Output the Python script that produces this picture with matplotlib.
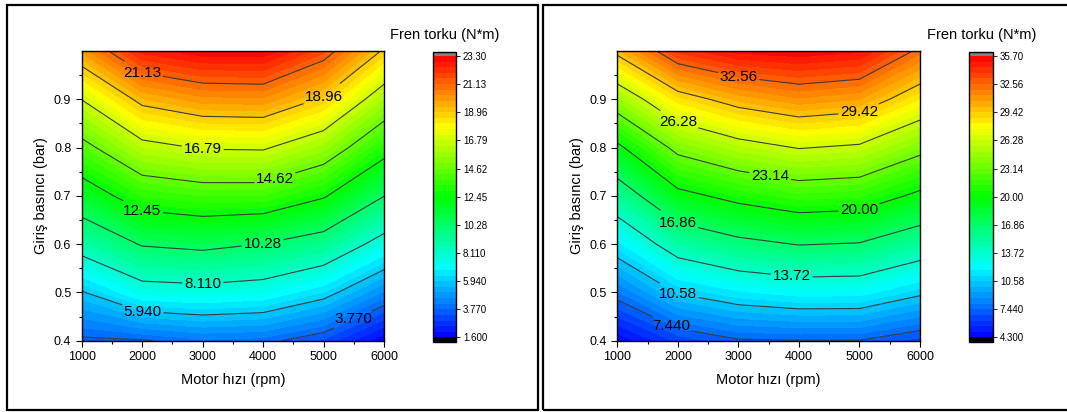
import numpy as np
import matplotlib
matplotlib.use("Agg")
import matplotlib.pyplot as plt
from matplotlib.colors import LinearSegmentedColormap
from matplotlib.patches import Rectangle
from matplotlib.ticker import MultipleLocator, FixedLocator

plt.rcParams["font.family"] = ["Liberation Sans", "DejaVu Sans"]

# grid (rows = pressure, cols = motor speed)
motor_speed = [1000, 2000, 3000, 4000, 5000, 6000]
inlet_pressure = [0.4, 0.5, 0.6, 0.7, 0.8, 0.9, 1.0]

torque_left = [
    [3.60, 3.70, 4.10, 4.00, 3.24, 1.65],
    [5.85, 7.41, 7.56, 7.33, 6.37, 4.56],
    [8.82, 10.40, 10.68, 10.25, 9.47, 7.49],
    [11.43, 13.36, 13.76, 13.74, 12.60, 10.31],
    [14.10, 16.31, 16.90, 16.95, 15.70, 13.09],
    [16.82, 19.35, 20.09, 20.17, 18.80, 15.88],
    [19.95, 22.60, 23.20, 23.25, 21.70, 18.80],
]
torque_right = [
    [4.40, 6.35, 7.30, 7.40, 7.40, 6.52],
    [8.01, 10.70, 11.70, 12.22, 12.17, 10.88],
    [11.59, 14.90, 16.22, 16.95, 16.73, 15.18],
    [15.33, 19.33, 20.69, 21.64, 21.37, 19.52],
    [19.52, 23.80, 25.41, 26.38, 25.96, 23.82],
    [24.58, 28.52, 30.23, 31.18, 30.69, 28.14],
    [29.90, 34.00, 35.30, 35.60, 35.20, 32.20],
]

range_left = (1.6, 23.3)
range_right = (4.3, 35.7)

# where the contour labels sit
labels_left = [(2000, 0.955), (5000, 0.905), (3000, 0.797), (4200, 0.735),
               (2000, 0.668), (4000, 0.592), (3000, 0.521), (2000, 0.45),
               (5480, 0.446)]
labels_right = [(3000, 0.946), (5000, 0.872), (2000, 0.852), (3520, 0.739),
                (5000, 0.670), (2000, 0.645), (3880, 0.533), (2000, 0.497),
                (1890, 0.431)]

cmap = LinearSegmentedColormap.from_list(
    "rainbow_origin",
    [(0.0, "#0000ff"), (0.25, "#00ffff"), (0.5, "#00ff00"),
     (0.75, "#ffff00"), (1.0, "#ff0000")], N=256)
cmap.set_over("#808080")
cmap.set_under("black")


def fmt(v):
    return f"{v:.3f}" if v < 10 else f"{v:.2f}"


def draw_panel(fig, ax, cax, z, vrange, label_pos):
    X, Y = np.meshgrid(motor_speed, inlet_pressure)
    Z = np.array(z)
    ticks = np.linspace(vrange[0], vrange[1], 11)
    fill_levels = np.linspace(vrange[0], vrange[1], 51)

    cf = ax.contourf(X, Y, Z, levels=fill_levels, cmap=cmap, extend="both")
    cs = ax.contour(X, Y, Z, levels=ticks[1:-1], colors="#3c3c3c", linewidths=0.8)
    texts = ax.clabel(cs, fmt=fmt, fontsize=11, colors="black", manual=label_pos,
                      inline=True, inline_spacing=2)
    for t in texts:
        t.set_rotation(0)

    ax.set_xlim(1000, 6000)
    ax.set_ylim(0.4, 1.0)
    ax.xaxis.set_major_locator(MultipleLocator(1000))
    ax.xaxis.set_minor_locator(MultipleLocator(500))
    ax.yaxis.set_major_locator(FixedLocator([0.4, 0.5, 0.6, 0.7, 0.8, 0.9]))
    ax.yaxis.set_minor_locator(FixedLocator([0.45, 0.55, 0.65, 0.75, 0.85, 0.95]))
    ax.tick_params(which="major", direction="out", length=4, width=0.8, labelsize=9)
    ax.tick_params(which="minor", direction="out", length=2, width=0.8)
    for s in ax.spines.values():
        s.set_linewidth(1.0)
    ax.set_xlabel("Motor hızı (rpm)", fontsize=10.5, labelpad=7)
    ax.set_ylabel("Giriş basıncı (bar)", fontsize=10.5, labelpad=4)

    cb = fig.colorbar(cf, cax=cax, extendrect=True, extendfrac=0.015)
    cb.set_ticks(ticks)
    cb.set_ticklabels([fmt(t) for t in ticks])
    cb.minorticks_off()
    cb.outline.set_linewidth(1.0)
    cb.ax.tick_params(labelsize=7, length=3, width=0.6, direction="out", pad=2)


W, H = 1067, 412
fig = plt.figure(figsize=(W / 100, H / 100), dpi=100)

ax1 = fig.add_axes([81.7 / W, 1 - 340.7 / H, 302.3 / W, 289.7 / H])
cax1 = fig.add_axes([433 / W, 1 - 341.7 / H, 23 / W, 290 / H])
ax2 = fig.add_axes([617.3 / W, 1 - 340.7 / H, 302.7 / W, 289.7 / H])
cax2 = fig.add_axes([969 / W, 1 - 341.7 / H, 24 / W, 290 / H])

draw_panel(fig, ax1, cax1, torque_left, range_left, labels_left)
draw_panel(fig, ax2, cax2, torque_right, range_right, labels_right)

fig.text(445 / W, 1 - 35 / H, "Fren torku (N*m)", ha="center", va="center", fontsize=10.5)
fig.text(982 / W, 1 - 35 / H, "Fren torku (N*m)", ha="center", va="center", fontsize=10.5)

# panel frames
fig.add_artist(Rectangle((7 / W, 2 / H), 531 / W, 405 / H, transform=fig.transFigure,
                         fill=False, lw=1.6, ec="black"))
fig.add_artist(Rectangle((543 / W, 2 / H), 540 / W, 405 / H, transform=fig.transFigure,
                         fill=False, lw=1.6, ec="black"))

fig.savefig("out.png", dpi=100)
